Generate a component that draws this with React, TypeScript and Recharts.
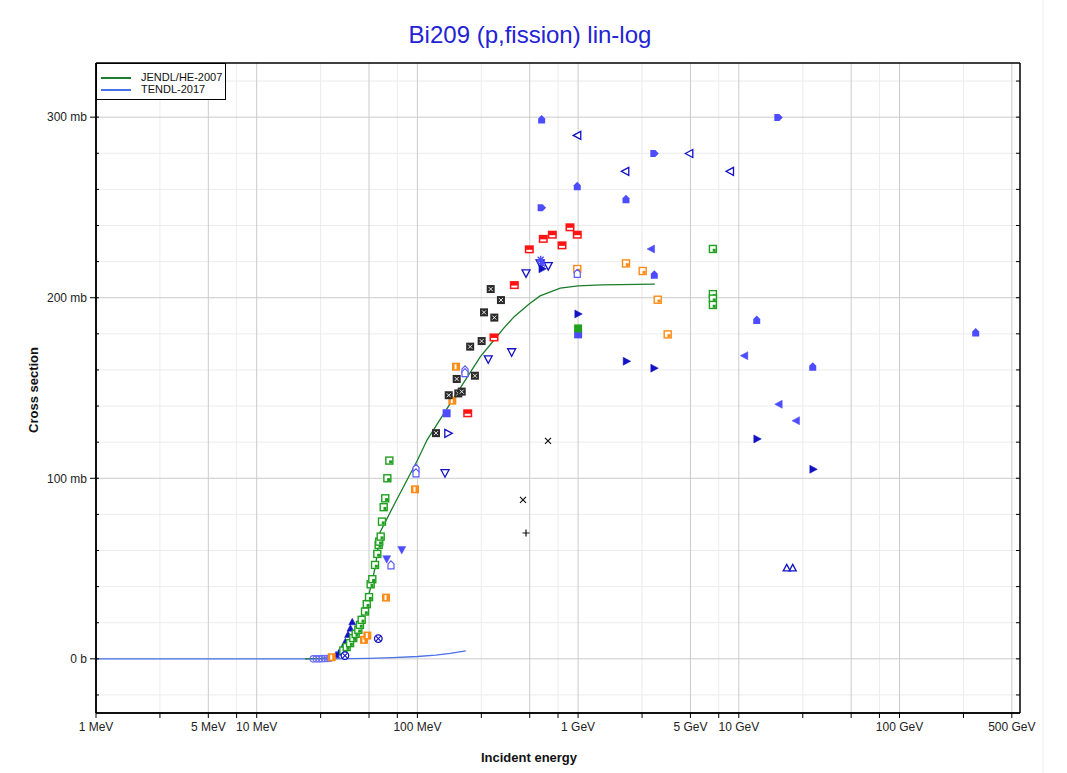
import React from 'react';
import { ComposedChart, Scatter, Line, XAxis, YAxis, CartesianGrid } from 'recharts';

// ---------- Evaluated curves: [energy (MeV), cross section (mb)] ----------
const jendlHe2007: number[][] = [
  [20, 0], [25, 0.2], [30, 1], [33, 3], [35, 5.5], [38, 9.5], [40, 13], [42, 17], [44, 21],
  [46, 26], [48, 31], [50, 36], [52, 42], [55, 52], [58.5, 70], [70, 83.7], [100, 110],
  [115, 121.3], [150, 137.5], [200, 154.8], [246, 167.2], [300, 176.6], [343.6, 183],
  [400, 189.5], [500, 196.8], [580, 201], [775, 205.3], [1000, 206.6], [1400, 207.1], [3000, 207.5],
];
const tendl2017: number[][] = [
  [1, 0], [10, 0], [30, 0], [50, 0.3], [70, 0.7], [100, 1.3], [130, 2.0], [160, 3.0], [200, 4.4],
];

// ---------- Experimental sets: [energy (MeV), cross section (mb)] ----------
const greenSet: number[][] = [
  [34.6, 4.6], [36.3, 6.5], [38.1, 8.7], [39.9, 11.5], [41.3, 13.8], [42.9, 16.1], [43.9, 18.8],
  [45.0, 21.6], [47.2, 26.2], [48.4, 30.3], [50.0, 34.2], [51.2, 41.3], [52.4, 44.1], [54.5, 52.0],
  [56.3, 58.1], [57.4, 63.1], [57.9, 64.9], [59.1, 67.7], [60.2, 76.0], [61.7, 84.0], [63.1, 88.9],
  [65.0, 100.0], [66.9, 109.8],
  [6900, 227], [6900, 202], [6900, 199.5], [6900, 196],
];
const greenFilledSet: number[][] = [[1000, 183]];
const blackBoxXSet: number[][] = [
  [130.5, 125], [156.6, 146], [175.6, 155], [179.7, 147], [188.7, 148], [213, 172.9], [228, 156.8],
  [251, 176], [259.7, 191.9], [285.8, 204.8], [301, 189], [331, 198.7],
];
const orangeLowSet: number[][] = [
  [29.3, 0.9], [46.5, 10.5], [48.8, 12.9], [63.8, 33.9], [96.6, 93.9], [164.9, 143], [173.9, 161.8],
];
const orangeHighSet: number[][] = [
  [988, 215.9], [1986, 219], [2523, 214.8], [3129, 198.9], [3610, 179.7],
];
const redSet: number[][] = [
  [205.6, 136], [299.7, 178], [401, 207], [497, 226.8], [607, 232.6], [691, 234.9], [794, 229],
  [890, 239], [988, 234.9],
];
const housesUpSet: number[][] = [
  [593, 298.7], [988, 261.8], [1986, 254.6], [2979, 212.7], [12925, 187.6], [28840, 161.8], [297900, 180.8],
];
const housesRightSet: number[][] = [[593, 249.8], [2979, 279.9], [17610, 299.8]];
const openLeftTriSet: number[][] = [[988, 289.9], [1966, 270], [4920, 279.9], [8815, 270]];
const filledLeftTriSet: number[][] = [[2843, 227], [10820, 167.9], [17710, 141], [22700, 131.9]];
const filledRightTriSet: number[][] = [
  [600, 216], [1003, 191], [2006, 164.8], [2979, 161], [13030, 121.8], [29090, 105],
];
const openDownTriSet: number[][] = [
  [148.5, 102.8], [276, 165.9], [386, 169.8], [474, 213.5], [580, 219], [652, 217.5],
];
const filledDownTriSet: number[][] = [[64.4, 55.2], [79.9, 60.3]];
const openRightTriSet: number[][] = [[155.7, 124.9]];
const openHouseSet: number[][] = [
  [68.5, 52], [98, 105.5], [98, 103], [197.8, 160], [197.8, 158.5], [988, 213.5],
];
const circleXSet: number[][] = [[35.4, 1.8], [57.1, 11.2]];
const openCircleSet: number[][] = [
  [22.5, 0], [23.5, 0], [24.5, 0], [25.5, 0.1], [26.5, 0.2], [27.5, 0.2], [28.5, 0.3],
];
const filledUpTriSet: number[][] = [
  [31.2, 2.2], [32.6, 3.6], [34.0, 5.8], [35.6, 9.5], [37.0, 13.5], [38.3, 17.0], [39.3, 20.5],
];
const crossSet: number[][] = [[649.5, 120.7], [454, 88]];
const plusSet: number[][] = [[474, 69.7]];
const blueSquareSet: number[][] = [[152, 136], [1000, 179.7]];
const openUpTriSet: number[][] = [[19870, 50.4], [21650, 50.4]];
const starSet: number[][] = [[585, 221], [595, 219]];

// ---------- Axis ticks ----------
const xTicks = [1, 2.5, 5, 7.5, 10, 25, 50, 75, 100, 250, 500, 750, 1000, 2500, 5000, 7500,
  10000, 25000, 50000, 75000, 100000, 250000, 500000];
const xTickLabels: Record<number, string> = {
  1: '1 MeV', 5: '5 MeV', 10: '10 MeV', 100: '100 MeV', 1000: '1 GeV', 5000: '5 GeV',
  10000: '10 GeV', 100000: '100 GeV', 500000: '500 GeV',
};
const xMajorGrid = [5, 10, 50, 100, 500, 1000, 5000, 10000, 50000, 100000, 500000];
const xMinorGrid = [2.5, 7.5, 25, 75, 250, 750, 2500, 7500, 25000, 75000, 250000];
const yTicksAll = [-20, 0, 20, 40, 60, 80, 100, 120, 140, 160, 180, 200, 220, 240, 260, 280, 300, 320];
const yMajor = [0, 100, 200, 300];
const yMinorGrid = [-20, 20, 40, 60, 80, 120, 140, 160, 180, 220, 240, 260, 280, 320];
const yTickLabels: Record<number, string> = { 0: '0 b', 100: '100 mb', 200: '200 mb', 300: '300 mb' };

const X_DOMAIN: [number, number] = [1, 562000];
const Y_DOMAIN: [number, number] = [-30, 330];
const FONT = '"Liberation Sans", Arial, Helvetica, sans-serif';

const GREEN = '#1fa01f';
const ORANGE = '#ff8a14';
const RED = '#ff1414';
const BLUE_L = '#4d4dff';
const BLUE_D = '#1212c4';
const LINE_GREEN = '#1b7d2c';
const LINE_BLUE = '#4a72e8';

const pts = (arr: number[][]) => arr.map(([x, y]) => ({ x, y }));

const marker = (kind: string, color: string) => (props: any) => {
  const cx = props.cx;
  const cy = props.cy;
  if (typeof cx !== 'number' || typeof cy !== 'number') return <g />;
  switch (kind) {
    case 'sqCorner':
      return (
        <g>
          <rect x={cx - 3.5} y={cy - 3.5} width={7} height={7} fill="#fff" stroke={color} strokeWidth={1.4} />
          <rect x={cx - 0.2} y={cy - 0.2} width={3} height={3} fill={color} />
        </g>
      );
    case 'sqFill':
      return <rect x={cx - 4} y={cy - 4} width={8} height={8} fill={color} />;
    case 'sqSlotV':
      return (
        <g>
          <rect x={cx - 4} y={cy - 4} width={8} height={8} fill={color} />
          <rect x={cx - 1.5} y={cy - 2.5} width={2} height={5} fill="#fff" />
        </g>
      );
    case 'sqSlotH':
      return (
        <g>
          <rect x={cx - 4.5} y={cy - 4} width={9} height={8} fill={color} />
          <rect x={cx - 3} y={cy + 0.5} width={6} height={2} fill="#fff" />
        </g>
      );
    case 'sqX':
      return (
        <g>
          <rect x={cx - 4} y={cy - 4} width={8} height={8} fill={color} />
          <path d={`M${cx - 2} ${cy - 2}L${cx + 2} ${cy + 2}M${cx + 2} ${cy - 2}L${cx - 2} ${cy + 2}`} stroke="#fff" strokeWidth={0.9} />
        </g>
      );
    case 'houseUp':
      return (
        <polygon
          points={`${cx - 3.5},${cy + 4} ${cx + 3.5},${cy + 4} ${cx + 3.5},${cy - 1} ${cx},${cy - 4.5} ${cx - 3.5},${cy - 1}`}
          fill={color}
        />
      );
    case 'houseUpOpen':
      return (
        <polygon
          points={`${cx - 3},${cy + 4} ${cx + 3},${cy + 4} ${cx + 3},${cy - 1} ${cx},${cy - 4} ${cx - 3},${cy - 1}`}
          fill="#fff" stroke={color} strokeWidth={1.2}
        />
      );
    case 'houseRight':
      return (
        <polygon
          points={`${cx - 4},${cy - 3.5} ${cx + 1},${cy - 3.5} ${cx + 4.5},${cy} ${cx + 1},${cy + 3.5} ${cx - 4},${cy + 3.5}`}
          fill={color}
        />
      );
    case 'triL':
    case 'triLOpen':
      return (
        <polygon
          points={`${cx - 4},${cy} ${cx + 3.5},${cy - 4} ${cx + 3.5},${cy + 4}`}
          fill={kind === 'triL' ? color : '#fff'} stroke={color} strokeWidth={kind === 'triL' ? 0.5 : 1.3}
        />
      );
    case 'triR':
    case 'triROpen':
      return (
        <polygon
          points={`${cx + 4},${cy} ${cx - 3.5},${cy - 4} ${cx - 3.5},${cy + 4}`}
          fill={kind === 'triR' ? color : '#fff'} stroke={color} strokeWidth={kind === 'triR' ? 0.5 : 1.3}
        />
      );
    case 'triU':
    case 'triUOpen':
      return (
        <polygon
          points={`${cx},${cy - 3.5} ${cx + 3.5},${cy + 3} ${cx - 3.5},${cy + 3}`}
          fill={kind === 'triU' ? color : '#fff'} stroke={color} strokeWidth={kind === 'triU' ? 0.5 : 1.3}
        />
      );
    case 'triD':
    case 'triDOpen':
      return (
        <polygon
          points={`${cx},${cy + 4} ${cx + 4},${cy - 3.5} ${cx - 4},${cy - 3.5}`}
          fill={kind === 'triD' ? color : '#fff'} stroke={color} strokeWidth={kind === 'triD' ? 0.5 : 1.3}
        />
      );
    case 'circX':
      return (
        <g>
          <circle cx={cx} cy={cy} r={3.8} fill="#fff" stroke={color} strokeWidth={1.3} />
          <path d={`M${cx - 2.5} ${cy - 2.5}L${cx + 2.5} ${cy + 2.5}M${cx + 2.5} ${cy - 2.5}L${cx - 2.5} ${cy + 2.5}`} stroke={color} strokeWidth={1.1} />
        </g>
      );
    case 'circOpen':
      return <circle cx={cx} cy={cy} r={3.2} fill="none" stroke={color} strokeWidth={1.2} />;
    case 'cross':
      return <path d={`M${cx - 3} ${cy - 3}L${cx + 3} ${cy + 3}M${cx + 3} ${cy - 3}L${cx - 3} ${cy + 3}`} stroke={color} strokeWidth={1.2} />;
    case 'plus':
      return <path d={`M${cx - 3.5} ${cy}L${cx + 3.5} ${cy}M${cx} ${cy - 3.5}L${cx} ${cy + 3.5}`} stroke={color} strokeWidth={1.2} />;
    case 'star':
      return (
        <path
          d={`M${cx - 4} ${cy}L${cx + 4} ${cy}M${cx} ${cy - 4}L${cx} ${cy + 4}M${cx - 3} ${cy - 3}L${cx + 3} ${cy + 3}M${cx + 3} ${cy - 3}L${cx - 3} ${cy + 3}`}
          stroke={color} strokeWidth={1.4}
        />
      );
    default:
      return <circle cx={cx} cy={cy} r={3} fill={color} />;
  }
};

const series: { data: number[][]; kind: string; color: string }[] = [
  { data: openCircleSet, kind: 'circOpen', color: '#6a6aff' },
  { data: filledUpTriSet, kind: 'triU', color: BLUE_D },
  { data: greenSet, kind: 'sqCorner', color: GREEN },
  { data: circleXSet, kind: 'circX', color: BLUE_D },
  { data: orangeLowSet, kind: 'sqSlotV', color: ORANGE },
  { data: orangeHighSet, kind: 'sqCorner', color: ORANGE },
  { data: blackBoxXSet, kind: 'sqX', color: '#2a2a2a' },
  { data: redSet, kind: 'sqSlotH', color: RED },
  { data: openHouseSet, kind: 'houseUpOpen', color: '#5a5aff' },
  { data: filledDownTriSet, kind: 'triD', color: BLUE_L },
  { data: openDownTriSet, kind: 'triDOpen', color: BLUE_D },
  { data: openRightTriSet, kind: 'triROpen', color: BLUE_D },
  { data: blueSquareSet, kind: 'sqFill', color: BLUE_L },
  { data: greenFilledSet, kind: 'sqFill', color: GREEN },
  { data: starSet, kind: 'star', color: BLUE_L },
  { data: housesUpSet, kind: 'houseUp', color: BLUE_L },
  { data: housesRightSet, kind: 'houseRight', color: BLUE_L },
  { data: openLeftTriSet, kind: 'triLOpen', color: BLUE_D },
  { data: filledLeftTriSet, kind: 'triL', color: BLUE_L },
  { data: filledRightTriSet, kind: 'triR', color: BLUE_D },
  { data: openUpTriSet, kind: 'triUOpen', color: BLUE_D },
  { data: crossSet, kind: 'cross', color: '#111' },
  { data: plusSet, kind: 'plus', color: '#111' },
];

const fmtX = (v: number) => xTickLabels[v] ?? '';
const fmtY = (v: number) => yTickLabels[v] ?? '';
const blank = () => '';

export default function App() {
  const axisLine = { stroke: '#000', strokeWidth: 1.5 };
  const tickLine = { stroke: '#000', strokeWidth: 1 };
  const tickStyle = { fontSize: 12, fill: '#222', fontFamily: FONT };
  return (
    <div style={{ position: 'absolute', left: 0, top: 0, width: 1067, height: 773, background: '#fff', fontFamily: FONT }}>
      <ComposedChart width={1067} height={773} margin={{ top: 63, right: 47, bottom: 0, left: 0 }}>
        <CartesianGrid verticalValues={xMinorGrid} horizontalValues={yMinorGrid} stroke="#ececec" strokeWidth={1} />
        <CartesianGrid verticalValues={xMajorGrid} horizontalValues={yMajor} stroke="#cbcbcb" strokeWidth={1} />
        <XAxis
          xAxisId={0} dataKey="x" type="number" scale="log" domain={X_DOMAIN} allowDataOverflow
          ticks={xTicks} interval={0} tickFormatter={fmtX} tickSize={5} tickMargin={4}
          axisLine={axisLine} tickLine={tickLine} tick={tickStyle} height={60}
        />
        <XAxis
          xAxisId="bm" orientation="bottom" mirror type="number" scale="log" domain={X_DOMAIN} allowDataOverflow
          ticks={xTicks} interval={0} tickFormatter={blank} tickSize={4}
          axisLine={axisLine} tickLine={tickLine} tick={tickStyle}
        />
        <XAxis
          xAxisId="top" orientation="top" mirror type="number" scale="log" domain={X_DOMAIN} allowDataOverflow
          ticks={xTicks} interval={0} tickFormatter={blank} tickSize={4}
          axisLine={axisLine} tickLine={tickLine} tick={tickStyle}
        />
        <YAxis
          yAxisId={0} dataKey="y" type="number" domain={Y_DOMAIN} allowDataOverflow
          ticks={yMajor} interval={0} tickFormatter={fmtY} tickSize={6} tickMargin={3}
          axisLine={axisLine} tickLine={tickLine} tick={tickStyle} width={96}
        />
        <YAxis
          yAxisId="lm" orientation="left" mirror type="number" domain={Y_DOMAIN} allowDataOverflow
          ticks={yTicksAll} interval={0} tickFormatter={blank} tickSize={3}
          axisLine={axisLine} tickLine={tickLine} tick={tickStyle}
        />
        <YAxis
          yAxisId="rm" orientation="right" mirror type="number" domain={Y_DOMAIN} allowDataOverflow
          ticks={yTicksAll} interval={0} tickFormatter={blank} tickSize={4}
          axisLine={axisLine} tickLine={tickLine} tick={tickStyle}
        />
        <Line
          data={pts(tendl2017)} dataKey="y" type="linear" stroke={LINE_BLUE} strokeWidth={1.3}
          dot={false} activeDot={false} isAnimationActive={false}
        />
        {series.map((s, i) => (
          <Scatter key={i} data={pts(s.data)} shape={marker(s.kind, s.color)} isAnimationActive={false} />
        ))}
        <Line
          data={pts(jendlHe2007)} dataKey="y" type="linear" stroke={LINE_GREEN} strokeWidth={1.3}
          dot={false} activeDot={false} isAnimationActive={false}
        />
      </ComposedChart>

      <svg width={1067} height={773} style={{ position: 'absolute', left: 0, top: 0, pointerEvents: 'none' }}>
        <line x1={1043} y1={0} x2={1043} y2={773} stroke="#eeeeee" strokeWidth={1} />
        <text x={530} y={43} textAnchor="middle" fontSize={24} fill="#2323d6" fontFamily={FONT}>
          Bi209 (p,fission) lin-log
        </text>
        <text x={529} y={762} textAnchor="middle" fontSize={13} fontWeight="bold" fill="#111" fontFamily={FONT}>
          Incident energy
        </text>
        <text
          x={38} y={390} textAnchor="middle" fontSize={13} fontWeight="bold" fill="#111" fontFamily={FONT}
          transform="rotate(-90 38 390)"
        >
          Cross section
        </text>
      </svg>

      <div
        style={{
          position: 'absolute', left: 96, top: 63, width: 130, height: 37, background: '#fff',
          border: '1px solid #000', boxSizing: 'border-box', fontSize: 11, color: '#111', fontFamily: FONT,
        }}
      >
        <div style={{ position: 'absolute', left: 4, top: 8, display: 'flex', alignItems: 'center' }}>
          <span style={{ display: 'inline-block', width: 30, height: 2, background: LINE_GREEN, marginRight: 10 }} />
          <span style={{ lineHeight: '11px' }}>JENDL/HE-2007</span>
        </div>
        <div style={{ position: 'absolute', left: 4, top: 20, display: 'flex', alignItems: 'center' }}>
          <span style={{ display: 'inline-block', width: 30, height: 2, background: LINE_BLUE, marginRight: 10 }} />
          <span style={{ lineHeight: '11px' }}>TENDL-2017</span>
        </div>
      </div>
    </div>
  );
}
